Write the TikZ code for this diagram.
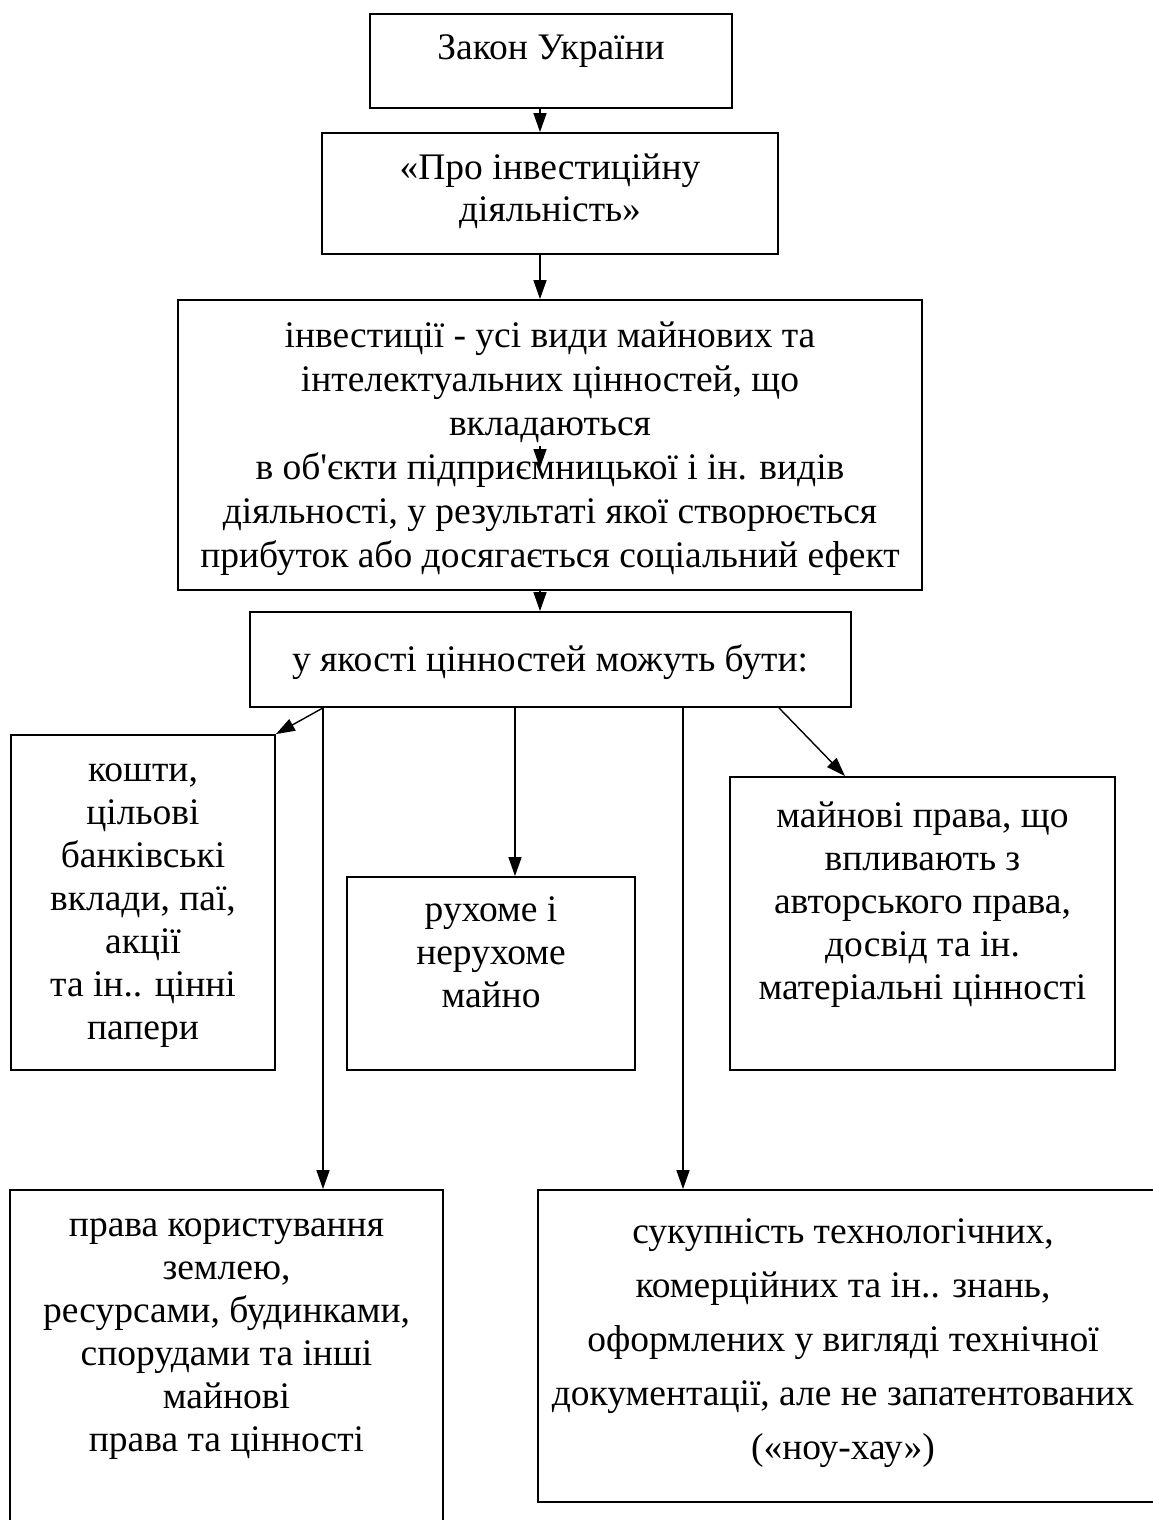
\documentclass[tikz,border=0pt]{standalone}
\usepackage{fontspec}
\setmainfont{Liberation Serif}[Ligatures=TeXOff]
\usetikzlibrary{arrows.meta}

\begin{document}
\begin{tikzpicture}[x=1pt,y=-1pt,
  box/.style={draw, line width=1.8pt, rectangle, inner sep=0pt},
  txt/.style={align=center, inner sep=0pt, anchor=north,
              font=\fontsize{37.5}{43}\selectfont},
  txtwide/.style={txt, font=\fontsize{37.5}{54}\selectfont},
  arr/.style={line width=1.4pt, -{Triangle[length=19pt,width=13pt]}}]

\useasboundingbox (0,0) rectangle (1153,1520);
\clip (0,0) rectangle (1153,1520);

% boxes
\node[box, minimum width=362pt, minimum height=94pt]  (zakon)   at (551,61)     {};
\node[box, minimum width=456pt, minimum height=121pt] (pro)     at (550,193.5)  {};
\node[box, minimum width=744pt, minimum height=290pt] (invest)  at (550,445)    {};
\node[box, minimum width=601pt, minimum height=95pt]  (yakosti) at (550.5,659.5){};
\node[box, minimum width=264pt, minimum height=335pt] (koshty)  at (143,902.5)  {};
\node[box, minimum width=288pt, minimum height=193pt] (rukhome) at (491,973.5)  {};
\node[box, minimum width=385pt, minimum height=293pt] (prava)   at (922.5,923.5){};
\node[box, minimum width=433pt, minimum height=370pt] (korystuv) at (226.5,1375){};
\node[box, minimum width=632pt, minimum height=312pt] (noukhau) at (854,1346)   {};

% texts
\node[txt] (t1) at (551,29) {\strut Закон України};
\node[txt, font=\fontsize{37.5}{42}\selectfont] (t2) at (550,150)
  {\strut «Про інвестиційну\\діяльність»};
\node[txt, font=\fontsize{37.5}{44}\selectfont] (t3) at (550,316)
  {\strut інвестиції - усі види майнових та\\
   інтелектуальних цінностей, що\\
   вкладаються\\
   в об'єкти підприємницької і ін. видів\\
   діяльності, у результаті якої створюється\\
   прибуток або досягається соціальний ефект};
\node[txt] (t4) at (550,641) {\strut у якості цінностей можуть бути:};
\node[txt] (t5) at (143,751)
  {\strut кошти,\\цільові\\банківські\\вклади, паї,\\акції\\та ін.. цінні\\папери};
\node[txt] (t6) at (491,891) {\strut рухоме і\\нерухоме\\майно};
\node[txt] (t7) at (922.5,797)
  {\strut майнові права, що\\впливають з\\авторського права,\\досвід та ін.\\матеріальні цінності};
\node[txt] (t8) at (226.5,1206)
  {\strut права користування\\землею,\\ресурсами, будинками,\\спорудами та інші\\майнові\\права та цінності};
\node[txtwide] (t9) at (843,1205)
  {\strut сукупність технологічних,\\комерційних та ін.. знань,\\оформлених у вигляді технічної\\документації, але не запатентованих\\(«ноу-хау»)};

% branch points on the lower edge of the list box
\coordinate (s1) at (323,0 |- yakosti.south);
\coordinate (s2) at (515,0 |- yakosti.south);
\coordinate (s3) at (683,0 |- yakosti.south);
\coordinate (s4) at (779,0 |- yakosti.south);
\coordinate (e4) at (845,0 |- prava.north);

% short arrow inside the definition box
\coordinate (m1) at (540,446);
\coordinate (m2) at (540,468);

% connectors
\draw[arr] (zakon.south -| 540,0) -- (pro.north -| 540,0);
\draw[arr] (pro.south -| 540,0) -- (invest.north -| 540,0);
\draw[arr] (m1) -- (m2);
\draw[arr] (invest.south -| 540,0) -- (yakosti.north -| 540,0);
\draw[arr] (s1) -- (koshty.north east);
\draw[arr] (s1) -- (s1 |- korystuv.north);
\draw[arr] (s2) -- (s2 |- rukhome.north);
\draw[arr] (s3) -- (s3 |- noukhau.north);
\draw[arr] (s4) -- (e4);
\end{tikzpicture}
\end{document}
